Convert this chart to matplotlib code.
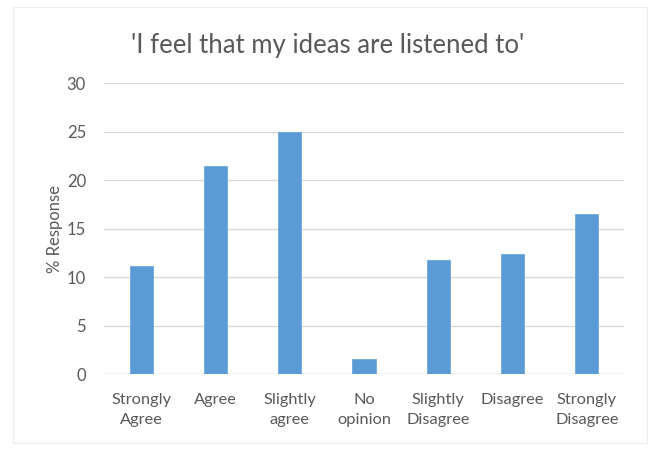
import matplotlib.pyplot as plt
from matplotlib.patches import Rectangle

# Survey responses
categories = ["Strongly\nAgree", "Agree", "Slightly\nagree", "No\nopinion",
              "Slightly\nDisagree", "Disagree", "Strongly\nDisagree"]
responses = [11.1, 21.5, 25.0, 1.6, 11.8, 12.4, 16.5]
yticks = [0, 5, 10, 15, 20, 25, 30]

text_color = "#595959"
plt.rcParams["font.family"] = ["Lato", "DejaVu Sans"]

fig = plt.figure(figsize=(6.57, 4.51), dpi=100)
ax = fig.add_axes([0.1583, 0.1707, 0.7915, 0.6446])

# faint chart border
fig.patches.append(Rectangle((13 / 657, 1 - 443 / 451), 634 / 657, 436 / 451,
                             transform=fig.transFigure, fill=False,
                             edgecolor="#ececec", linewidth=0.8))

x = range(len(categories))
ax.bar(x, responses, width=0.31, color="#5b9bd5", edgecolor="#6fa8dc",
       linewidth=0.6, zorder=3)

ax.set_xlim(-0.5, len(categories) - 0.5)
ax.set_ylim(0, 30)
ax.set_yticks(yticks)
ax.set_xticks(list(x))
ax.set_xticklabels(categories, fontsize=11.8, color=text_color, linespacing=1.5)
ax.tick_params(axis="y", labelsize=12, colors=text_color, length=0, pad=13)
ax.tick_params(axis="x", length=0, pad=14)
ax.grid(axis="y", color="#d9d9d9", linewidth=1, zorder=0)
for s in ax.spines.values():
    s.set_visible(False)
ax.axhline(0, color="#d9d9d9", linewidth=1, zorder=1)

ax.set_ylabel("% Response", fontsize=12, color=text_color, labelpad=3)
fig.text(0.498, 1 - 45 / 451, "'I feel that my ideas are listened to'",
         ha="center", va="center", fontsize=18.5, color=text_color)

fig.savefig("out.png", dpi=100)
